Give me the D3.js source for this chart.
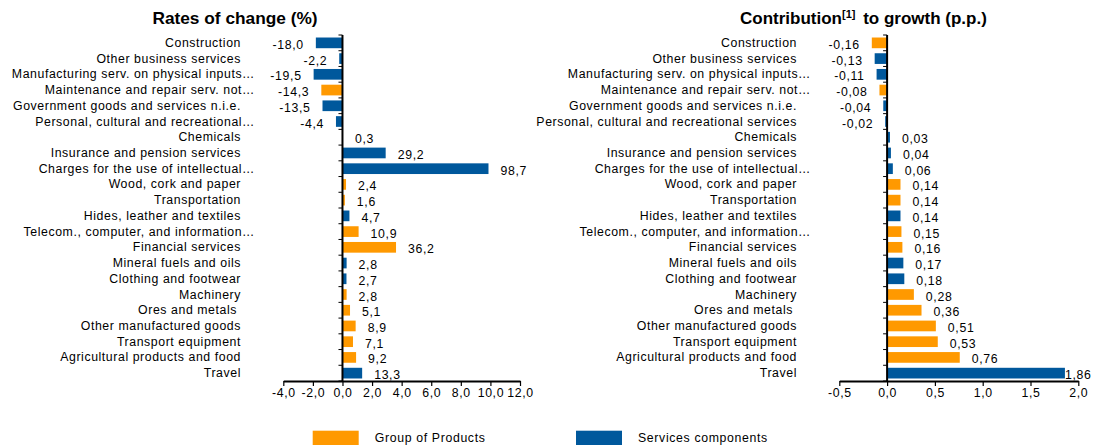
<!DOCTYPE html>
<html><head><meta charset="utf-8">
<script src="https://cdn.jsdelivr.net/npm/d3@7"></script>
<style>
body{margin:0;background:#fff;}
text{font-family:"Liberation Sans",Arial,sans-serif;fill:#000;}
.lab{white-space:pre;}
</style></head>
<body><svg id="c" width="1094" height="445"></svg>
<script>
const categoriesLeft = ["Construction","Other business services","Manufacturing serv. on physical inputs…","Maintenance and repair serv. not…","Government goods and services n.i.e.","Personal, cultural and recreational…","Chemicals","Insurance and pension services","Charges for the use of intellectual…","Wood, cork and paper","Transportation","Hides, leather and textiles","Telecom., computer, and information…","Financial services","Mineral fuels and oils","Clothing and footwear","Machinery","Ores and metals ","Other manufactured goods","Transport equipment","Agricultural products and food","Travel"];
const categoriesRight = ["Construction","Other business services","Manufacturing serv. on physical inputs…","Maintenance and repair serv. not…","Government goods and services n.i.e.","Personal, cultural and recreational services","Chemicals","Insurance and pension services","Charges for the use of intellectual…","Wood, cork and paper","Transportation","Hides, leather and textiles","Telecom., computer, and information…","Financial services","Mineral fuels and oils","Clothing and footwear","Machinery","Ores and metals ","Other manufactured goods","Transport equipment","Agricultural products and food","Travel"];
const ratesOfChange = [-18.0,-2.2,-19.5,-14.3,-13.5,-4.4,0.3,29.2,98.7,2.4,1.6,4.7,10.9,36.2,2.8,2.7,2.8,5.1,8.9,7.1,9.2,13.3];
const ratesGroup = ["S","S","S","P","S","S","S","S","S","P","P","S","P","P","S","S","P","P","P","P","P","S"];
const contributions = [-0.16,-0.13,-0.11,-0.08,-0.04,-0.02,0.03,0.04,0.06,0.14,0.14,0.14,0.15,0.16,0.17,0.18,0.28,0.36,0.51,0.53,0.76,1.86];
const contribGroup = ["P","S","S","P","S","S","S","S","S","P","P","S","P","P","S","S","P","P","P","P","P","S"];
// left chart axis as drawn: ticks labelled -4..12 (bars drawn at a tenth of the rate)
const leftTicks = [-40,-20,0,20,40,60,80,100,120];
const rightTicks = [-0.5,0,0.5,1.0,1.5,2.0];
const legendItems = [{key:"P",label:"Group of Products"},{key:"S",label:"Services components"}];

const colors = {P:"#FF9900", S:"#00589C"};
const svg = d3.select("#c");
const fmt = (d,p)=>d.toFixed(p).replace(".",",");

function panel(opt){
  const g = svg.append("g");
  const x = d3.scaleLinear().domain(opt.domain).range(opt.range);
  const y = d3.scaleBand().domain(d3.range(opt.cats.length)).range([35,381]).paddingInner(0.32).paddingOuter(0.16);
  const step = y.step();
  g.selectAll("rect.bar").data(opt.values).join("rect")
    .attr("x",d=>x(Math.min(0,d))).attr("width",d=>Math.abs(x(d)-x(0)))
    .attr("y",(d,i)=>y(i)).attr("height",y.bandwidth())
    .attr("fill",(d,i)=>colors[opt.groups[i]]);
  g.selectAll("text.val").data(opt.values).join("text")
    .attr("class","lab")
    .style("font-size","12.3px").style("letter-spacing","0.65px")
    .attr("y",(d,i)=>y(i)+y.bandwidth()/2+6)
    .attr("text-anchor",d=>d<0?"end":"start")
    .attr("x",d=>{
      if(d<0) return x(d)-12;
      return Math.min(x(d)+12, opt.maxLabelX);
    })
    .text(d=>fmt(d,opt.prec));
  g.selectAll("text.cat").data(opt.cats).join("text")
    .attr("class","lab")
    .style("font-size","12.3px").style("letter-spacing","0.58px")
    .attr("text-anchor","end")
    .attr("x",d=>opt.labelX + (d.endsWith("…")?14:0))
    .attr("y",(d,i)=>y(i)+y.bandwidth()/2+4)
    .text(d=>d);
  const x0 = x(0);
  g.append("line").attr("x1",x0).attr("x2",x0).attr("y1",35).attr("y2",381).attr("stroke","#000").attr("stroke-width",2);
  const bounds = d3.range(opt.cats.length+1).map(i=>35+i*step);
  g.selectAll("line.yt").data(bounds).join("line")
    .attr("x1",x0-4).attr("x2",x0).attr("y1",d=>d).attr("y2",d=>d).attr("stroke","#000").attr("stroke-width",1);
  const ax = g.append("g").attr("transform","translate(0,381)")
    .call(d3.axisBottom(x).tickValues(opt.ticks).tickSize(5).tickSizeOuter(0).tickFormat(opt.tickFmt));
  ax.select(".domain").attr("stroke","#000").attr("stroke-width",2.2);
  ax.selectAll(".tick line").attr("stroke","#000").attr("stroke-width",1.2);
  ax.selectAll(".tick text").style("font-size","12.3px").style("letter-spacing","0.6px")
    .style("font-family","'Liberation Sans',Arial,sans-serif").attr("fill","#000").attr("y",7).attr("dy","0.71em");
}

panel({cats:categoriesLeft, values:ratesOfChange, groups:ratesGroup,
  domain:[-40,120], range:[283.3,520], ticks:leftTicks, tickFmt:d=>fmt(d/10,1),
  labelX:241, prec:1, maxLabelX:1090});
panel({cats:categoriesRight, values:contributions, groups:contribGroup,
  domain:[-0.5,2.0], range:[839.3,1078.3], ticks:rightTicks, tickFmt:d=>fmt(d,1),
  labelX:797, prec:2, maxLabelX:1065});

svg.append("text").attr("x",235).attr("y",24).attr("text-anchor","middle")
  .style("font-size","17.3px").style("font-weight","bold").text("Rates of change (%)");
const t2 = svg.append("text").attr("x",740).attr("y",24)
  .style("font-size","17px").style("font-weight","bold");
t2.append("tspan").text("Contribution");
t2.append("tspan").attr("dy",-6).style("font-size","11px").text("[1]");
t2.append("tspan").attr("dy",6).attr("dx",3).text(" to growth (p.p.)");

const lg = svg.append("g");
const lx = [312.7, 576];
legendItems.forEach((it,i)=>{
  lg.append("rect").attr("x",lx[i]).attr("y",430.7).attr("width",46).attr("height",15).attr("fill",colors[it.key]);
  lg.append("text").attr("x",lx[i]+62).attr("y",441.5).style("font-size","12.3px").style("letter-spacing","0.65px").text(it.label);
});
</script></body></html>
